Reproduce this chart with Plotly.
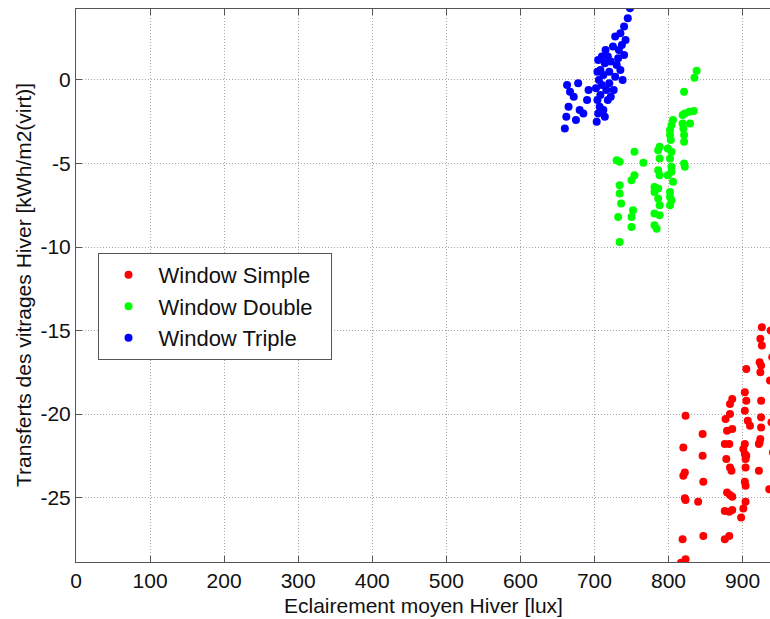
import plotly.graph_objects as go

# Window Simple (red)
simple_x = [926, 924, 926, 923, 925, 924, 905, 903, 886, 905, 883, 925, 903, 883, 877, 823,
            925, 907, 910, 925, 879, 886, 846, 924, 876, 882, 903, 820,
            901, 903, 905, 904, 923, 922, 846, 878, 883, 885, 904, 922, 822, 820, 847,
            903, 904, 879, 883, 886, 822, 823, 840, 904, 901, 876, 882, 886, 898, 847,
            819, 876, 882, 817, 823, 938, 940, 937, 939, 941, 936]
simple_y = [-14.8, -15.5, -15.9, -16.9, -17.1, -17.5, -17.3, -18.7, -19.1, -19.2, -19.4, -19.2,
            -19.8, -20.0, -20.3, -20.1, -20.2, -20.4, -20.7, -20.8, -21.0, -20.9, -21.2, -21.5,
            -21.8, -21.8, -21.8, -22.0,
            -22.1, -22.4, -22.5, -22.7, -21.7, -21.8, -22.5, -22.7, -23.2, -23.4, -23.2, -23.4,
            -23.5, -23.7, -24.05, -24.05, -24.3, -24.7, -24.85, -24.95, -25.05, -25.15, -25.25,
            -25.25, -25.65, -25.8, -25.85, -25.75, -26.2, -27.3, -27.5, -27.5, -27.3, -28.9, -28.7,
            -15.0, -16.6, -18.0, -20.5, -22.3, -24.5]

# Window Double (green)
double_x = [838, 835, 821, 819, 822, 828, 834, 806, 819, 829, 804, 802, 820, 802, 821, 803, 821,
            788, 799, 804, 754, 786, 788, 802, 730, 734, 766, 821, 822, 786, 804, 804, 788,
            754, 750, 799, 806, 734, 781, 786, 781, 802, 802, 734, 786, 804, 736, 788, 802,
            752, 781, 788, 732, 750, 781, 784, 750, 734]
double_y = [0.56, 0.14, -0.7, -2.1, -2.0, -1.9, -1.85, -2.4, -2.6, -2.6, -2.7, -3.0, -2.9, -3.3,
            -3.3, -3.6, -3.7, -4.0, -4.1, -4.3, -4.3, -4.2, -4.7, -4.7, -4.8, -4.9, -4.95, -5.0,
            -5.2, -5.4, -5.2, -5.5, -5.7, -5.7, -6.0, -5.7, -6.1, -6.3, -6.4, -6.5, -6.7, -6.7,
            -7.0, -6.8, -7.1, -7.2, -7.4, -7.5, -7.5, -7.8, -8.0, -8.1, -8.2, -8.2, -8.7, -8.9,
            -8.8, -9.7]

# Window Triple (blue)
triple_x = [660, 662, 665, 663, 667, 672, 678, 675, 680, 685, 692, 690,
            703, 705, 707, 704, 708, 702, 710, 706, 712, 708, 714, 705, 716, 718, 712, 720,
            720, 718, 715, 722, 710, 704, 714, 722,
            726, 728, 730, 732, 733, 735, 737, 735, 740, 742, 740, 745, 748, 738, 725, 728]
triple_y = [-2.9, -2.2, -1.6, -0.3, -0.7, -1.0, -0.2, -2.4, -1.8, -2.0, -0.6, -1.2,
            -2.5, -2.0, -1.6, -1.2, -0.9, -0.5, -0.3, 0.0, 0.3, 0.6, 1.0, 1.2, -0.6, -1.2, -1.8,
            -0.2, 0.5, 1.4, 1.8, 1.1, 1.4, 0.5, -2.2, -1.0,
            -0.6, 0.2, 0.9, 1.3, 1.8, 0.6, 2.1, 2.8, 1.5, 2.4, 3.2, 3.7, 4.3, 0.0, 2.0, 2.6]

series = [
    ("Window Simple", simple_x, simple_y, "#ff0000"),
    ("Window Double", double_x, double_y, "#00ff00"),
    ("Window Triple", triple_x, triple_y, "#0000ff"),
]

x_ticks = [0, 100, 200, 300, 400, 500, 600, 700, 800, 900]
y_ticks = [0, -5, -10, -15, -20, -25]

fig = go.Figure()
for name, xs, ys, col in series:
    fig.add_trace(go.Scatter(x=xs, y=ys, mode="markers", name=name + "\u00a0\u00a0",
                             marker=dict(color=col, size=8, line=dict(width=0))))

FAM = "Liberation Sans, Arial, sans-serif"
font = dict(family=FAM, size=21, color="#111111")

fig.update_layout(
    width=770, height=619,
    margin=dict(l=75.5, r=0, t=9, b=57, autoexpand=False),
    paper_bgcolor="white", plot_bgcolor="white",
    font=font,
    showlegend=True,
    legend=dict(x=0.031, y=0.559, xanchor="left", yanchor="top",
                bgcolor="white", bordercolor="#555555", borderwidth=1,
                font=dict(family=FAM, size=22, color="#111111"),
                itemwidth=50),
    annotations=[
        dict(text="Eclairement moyen Hiver [lux]", xref="paper", yref="paper",
             x=0.5, y=0, xanchor="center", yanchor="middle", yshift=-43,
             showarrow=False, font=font),
        dict(text="Transferts des vitrages Hiver [kWh/m2(virt)]", xref="paper", yref="paper",
             x=0, y=0.5, xanchor="center", yanchor="middle", xshift=-52.5, textangle=-90,
             showarrow=False, font=font),
    ],
)
fig.update_xaxes(
    range=[0, 937], tickvals=x_ticks, ticktext=[str(v) for v in x_ticks],
    showgrid=True, gridcolor="#a8a8a8", griddash="1px,2px", gridwidth=1,
    showline=True, linecolor="#555555", linewidth=1, mirror="ticks",
    ticks="inside", ticklen=6, tickcolor="#555555", zeroline=False,
    automargin=False,
)
fig.update_yaxes(
    range=[-28.86, 4.25], tickvals=y_ticks, ticktext=[str(v) for v in y_ticks],
    showgrid=True, gridcolor="#a8a8a8", griddash="1px,2px", gridwidth=1,
    showline=True, linecolor="#555555", linewidth=1, mirror=False,
    ticks="inside", ticklen=6, tickcolor="#555555", zeroline=False,
    automargin=False,
)

fig.write_html("out.html", config={"displayModeBar": False},
               post_script="document.body.style.margin='0';document.body.style.overflow='hidden';")
